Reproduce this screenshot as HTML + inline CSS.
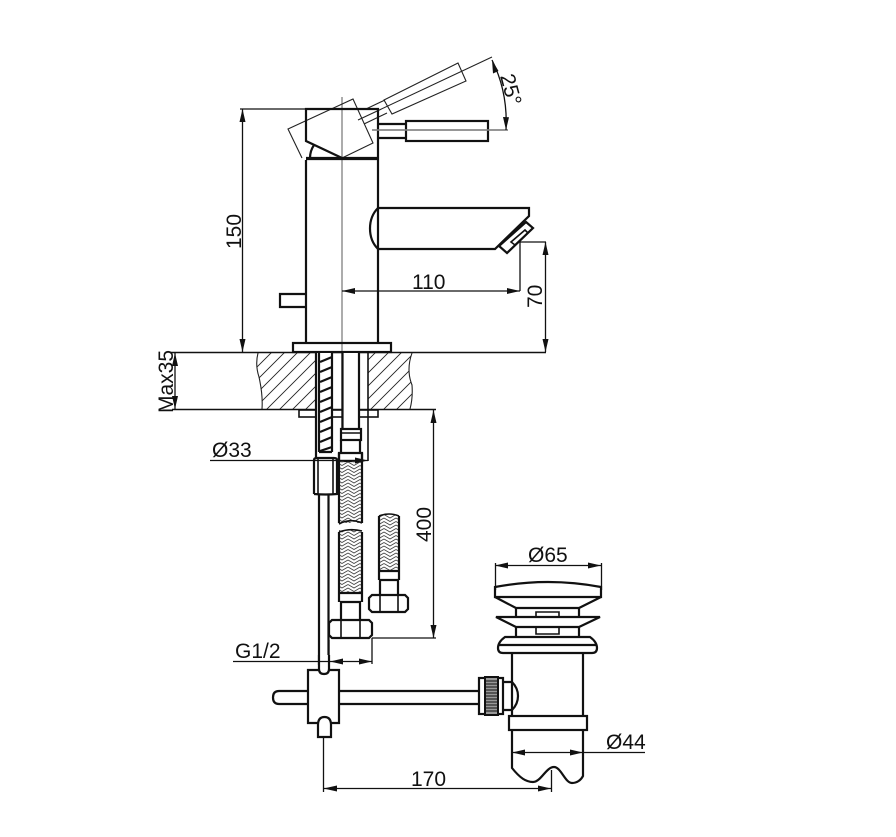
<!DOCTYPE html>
<html><head><meta charset="utf-8">
<style>
html,body{margin:0;padding:0;background:#fff}
svg{display:block}
text{font-family:"Liberation Sans",sans-serif;font-size:21px;fill:#111}
.k{stroke:#111;stroke-width:2.2;fill:none}
.m{stroke:#111;stroke-width:1.6;fill:none}
.t{stroke:#222;stroke-width:1.1;fill:none}
.c{stroke:#888;stroke-width:1.4;fill:none}
.a{fill:#111;stroke:none}
</style></head><body>
<svg width="896" height="837" viewBox="0 0 896 837" xmlns="http://www.w3.org/2000/svg">
<defs>
<pattern id="h" width="13" height="13" patternUnits="userSpaceOnUse">
<path d="M-2 15L15 -2M-2 2L2 -2M11 15L15 11" stroke="#222" stroke-width="0.9"/>
</pattern>
<pattern id="b" width="12" height="7" patternUnits="userSpaceOnUse">
<path d="M0 0L6 3.500L12 0M0 3.500L6 7L12 3.500M0 -3.500L6 0L12 -3.500M0 7L6 10.500L12 7" stroke="#444" stroke-width="0.9" fill="none"/>
</pattern>
</defs>

<!-- center line -->
<path class="c" d="M342 97V428M372 130H508"/>

<!-- tilted phantom handle -->
<path class="t" d="M302 158L288 129L353 99L373 143L342 158"/>
<path class="t" d="M384 100L458 63L466 81L392 114Z"/>
<path class="t" d="M366 109L385 100M358 120L492 57M364 124L387 113"/>

<!-- head -->
<path class="k" d="M342 158L306 141V109H378V158"/>
<path class="k" d="M314 145Q310 151 310 158"/>
<path d="M306 158.500H378" stroke="#111" stroke-width="3.200"/>
<path class="k" d="M306 160V343M378 158V343"/>

<!-- handle -->
<path class="k" d="M378 124H406M378 138H406"/>
<rect class="k" x="406" y="121" width="82" height="20"/>
<path class="c" d="M372 130H508"/>

<!-- spout -->
<path class="k" d="M378 208H529V216L495 249H378M378 208Q370 216 370 228.500Q370 241 378 249"/>
<path class="k" d="M526 222L533 228L507 253L499 246Z"/>
<path class="m" d="M525 230L528 233L515 245L511 242Z"/>

<!-- button, base plate -->
<path class="k" d="M306 294H280V307H306"/>
<rect class="k" x="293" y="343" width="98" height="9"/>

<!-- counter -->
<path fill="url(#h)" stroke="none" d="M258 353Q255 365 259 377Q263 395 262 409H316V353Z"/>
<path fill="url(#h)" stroke="none" d="M368 353H412Q406 370 412 385Q413 398 410 409H368Z"/>
<path class="t" d="M258 353Q255 365 259 377Q263 395 262 409M412 353Q406 370 412 385Q413 398 410 409"/>
<path class="m" d="M170 352.500H546M172 409.500H436"/>

<!-- under plate -->
<rect class="m" x="299" y="410" width="79" height="7"/>

<!-- tubes through the counter -->
<rect x="317" y="353" width="16" height="100" fill="#fff"/>
<rect x="343" y="353" width="16" height="75" fill="#fff"/>
<path class="k" d="M316 352V458M342.500 352V428M359 352V429"/>
<path class="m" d="M368 352V461"/>
<path class="k" d="M319 352V452M332 352V452M319 452H332"/>
<path class="k" d="M320 362L332 357M320 372L332 367M320 382L332 377M320 392L332 387M320 402L332 397M320 412L332 407M320 422L332 417M320 432L332 427M320 442L332 437M320 451L332 447"/>

<!-- connector -->
<rect class="k" x="341" y="429" width="20" height="11"/>
<path class="m" d="M341 433H361"/>
<path class="k" d="M341 440V453M360 440V453M339 453H362V461H339Z"/>

<!-- long hose -->
<rect x="339" y="461" width="23" height="62" fill="url(#b)"/>
<rect x="339" y="530" width="23" height="63" fill="url(#b)"/>
<path class="k" d="M339 453V523M362 453V523M339 532V593M362 532V593"/>
<path class="m" d="M339 524Q350 518 362 523M339 532Q350 528 362 531"/>
<path class="k" d="M339 593H362M340 602H361M339 593V602M362 593V602M341 602V620M360 602V620"/>
<path class="k" d="M332 620H369L372 623V635L369 638H332L329 635V623Z"/>
<path class="m" d="M341 620V638M360 620V638"/>

<!-- short hose -->
<rect x="379" y="515" width="20" height="56" fill="url(#b)"/>
<path class="k" d="M379 516V580M399 516V580M379 571H399M379 580H399M380 580V595M398 580V595"/>
<path class="m" d="M379 516Q389 512 399 516"/>
<path class="k" d="M372 595H405L408 598V609L405 612H372L369 609V598Z"/>
<path class="m" d="M380 595V612M398 595V612"/>

<!-- nut and vertical pipe -->
<path class="k" d="M314 494V460Q314 458 317 458H334Q337 458 337 460V494Q326 495 314 494"/>
<path class="m" d="M318 458V494M333 458V494"/>
<path class="k" d="M319 494V665M328.500 494V665"/>

<!-- tee -->
<rect x="319" y="655" width="10" height="19" fill="#fff"/>
<path class="k" d="M319 655V669Q319 674 324 674Q329 674 329 669V655"/>
<path class="k" d="M319 670H308V723H318M331 723H339V670H329"/>
<path class="k" d="M308 691H279Q273 691 273 697.500Q273 704 279 704H308"/>
<path class="k" d="M339 691H480M339 704H480"/>
<path class="k" d="M318 737V725Q318 717 324.500 717Q331 717 331 725V737Z"/>

<!-- knurled nut -->
<rect class="k" x="479" y="678" width="24" height="36"/>
<rect x="485" y="677" width="13" height="38" fill="#999" stroke="#111" stroke-width="2"/>
<path stroke="#111" stroke-width="1" d="M485 681H498M485 684H498M485 687H498M485 690H498M485 693H498M485 696H498M485 699H498M485 702H498M485 705H498M485 708H498M485 711H498"/>
<path class="k" d="M503 682H512Q518 688 518 696Q518 704 512 710H503"/>

<!-- waste body -->
<path class="k" d="M495 597V587Q548 577 601 587V597ZM495 597L516 608H579L601 597"/>
<path class="k" d="M496 617H600L579 627H516ZM516 608V617M579 608V617M516 627V637M579 627V637"/>
<path class="m" d="M536 617V612H559V617M536 627V634H559V627"/>
<path class="k" d="M505 637H590Q597 642 597 648Q597 653 592 653H503Q498 653 498 648Q498 642 505 637Z"/>
<path class="k" d="M499 645H596"/>
<path class="k" d="M512 653V716M583 653V716"/>
<rect class="k" x="509" y="716" width="78" height="14"/>
<path class="k" d="M512 730V768C520 778 526 782 533 782C541 782 546 767 554 767C561 767 565 783 572 783C577 783 581 780 583 776V730"/>

<!-- dimension lines -->
<g class="m" style="stroke-width:1.3">
<path d="M240 109H306M242.500 109V352"/>
<path d="M175 353V409"/>
<path d="M342 291H520M520 242V291M520 242H546M545.500 242V352"/>
<path d="M210 460.500H368"/>
<path d="M433.500 410V638M372 638H436"/>
<path d="M233 661.500H329M330 661.500H372M372 638V664M329 640V664"/>
<path d="M323.500 737V792M323 788.500H551M551.500 770V792"/>
<path d="M495 565.500H601M495.500 563V590M601.500 563V590"/>
<path d="M512 752.500H645"/>
<path d="M492 60Q508 92 506 130"/>
</g>

<!-- arrowheads -->
<path class="a" d="M242.500 109L239.500 122H245.500ZM242.500 352L239.500 339H245.500Z"/>
<path class="a" d="M175 353L172 366H178ZM175 409L172 396H178Z"/>
<path class="a" d="M342 291L355 288V294ZM520 291L507 288V294Z"/>
<path class="a" d="M545.500 242L542.500 255H548.500ZM545.500 352L542.500 339H548.500Z"/>
<path class="a" d="M433.500 410L430.500 423H436.500ZM433.500 638L430.500 625H436.500Z"/>
<path class="a" d="M368 460.500L355 457.500V463.500Z"/>
<path class="a" d="M330 661.500L343 658.500V664.500ZM372 661.500L359 658.500V664.500Z"/>
<path class="a" d="M323.500 788.500L337 785.500V791.500ZM551 788.500L538 785.500V791.500Z"/>
<path class="a" d="M495 565.500L508 562.500V568.500ZM601 565.500L588 562.500V568.500Z"/>
<path class="a" d="M512 752.500L525 749.500V755.500ZM583 752.500L570 749.500V755.500Z"/>
<path class="a" d="M492 60L498.500 71L493 73.500ZM506 130L503 117L509 117.300Z"/>

<!-- labels -->
<text transform="translate(241 249) rotate(-90)">150</text>
<text transform="translate(173 413) rotate(-90)">Max35</text>
<text x="412" y="289">110</text>
<text transform="translate(542 308) rotate(-90)">70</text>
<text transform="translate(431 542) rotate(-90)">400</text>
<text x="212" y="457">Ø33</text>
<text x="235" y="658">G1/2</text>
<text x="411" y="786">170</text>
<text x="528" y="562">Ø65</text>
<text x="606" y="749">Ø44</text>
<text transform="translate(500 76) rotate(75)">25°</text>
</svg>
</body></html>
